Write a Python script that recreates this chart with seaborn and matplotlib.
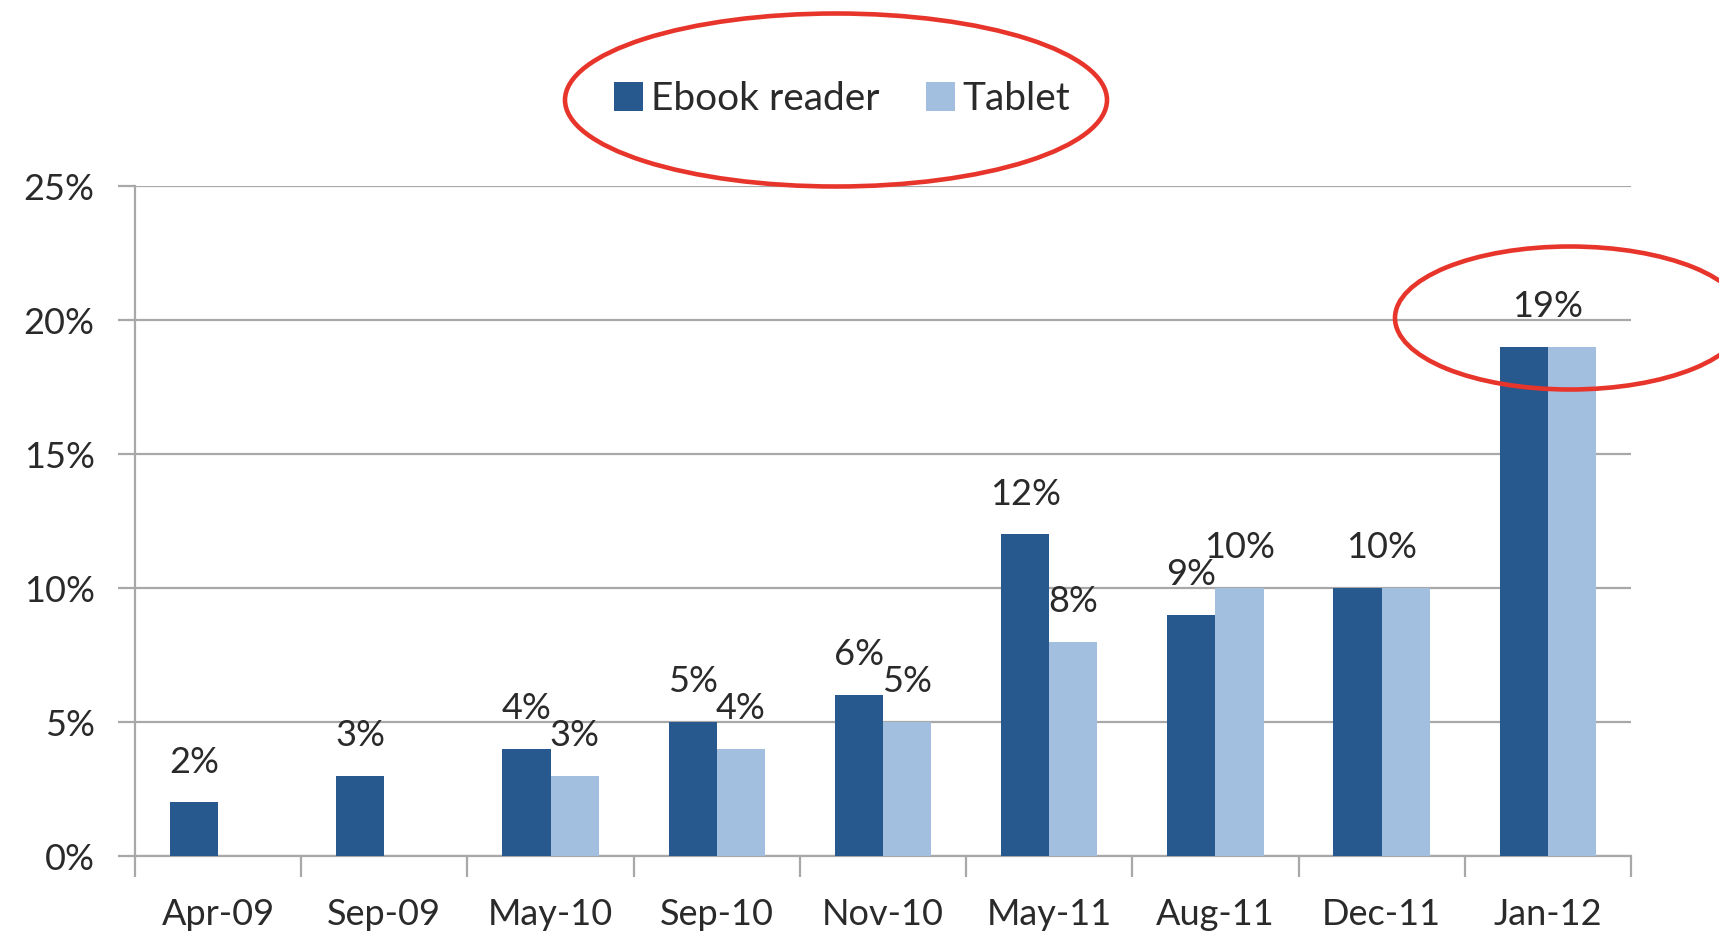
import numpy as np
import pandas as pd
import matplotlib
matplotlib.use("Agg")
import matplotlib.pyplot as plt
import seaborn as sns
from matplotlib.patches import Ellipse, Patch
from matplotlib.ticker import FuncFormatter, FixedLocator

months = ["Apr-09", "Sep-09", "May-10", "Sep-10", "Nov-10", "May-11", "Aug-11", "Dec-11", "Jan-12"]
ebook_reader = [2, 3, 4, 5, 6, 12, 9, 10, 19]
tablet = [np.nan, np.nan, 3, 4, 5, 8, 10, 10, 19]
series = ["Ebook reader", "Tablet"]
colors = ["#28598e", "#a3bfe0"]
yticks = [0, 5, 10, 15, 20, 25]

text_col = "#2a2a2a"
grid_col = "#a8a8a8"

df = pd.DataFrame({
    "month": months * 2,
    "share": ebook_reader + tablet,
    "device": [series[0]] * len(months) + [series[1]] * len(months),
}).dropna()

sns.set_style("white")
plt.rcParams["font.family"] = ["Lato", "DejaVu Sans"]

fig = plt.figure(figsize=(17.19, 9.32), dpi=100)
ax = fig.add_axes([0.0785, 0.0815, 0.8703, 0.7189])

sns.barplot(data=df, x="month", y="share", hue="device", order=months,
            hue_order=series, palette=colors, width=0.58, saturation=1,
            linewidth=0, legend=False, ax=ax, zorder=3)

ax.set_xlim(-0.5, len(months) - 0.5)
ax.set_ylim(0, 25)
ax.yaxis.set_major_locator(FixedLocator(yticks))
ax.yaxis.set_major_formatter(FuncFormatter(lambda v, p: f"{v:.0f}%"))
ax.grid(axis="y", color=grid_col, lw=1.6, zorder=0)
ax.set_axisbelow(True)
for s in ["top", "right"]:
    ax.spines[s].set_visible(False)
for s in ["left", "bottom"]:
    ax.spines[s].set_color(grid_col)
    ax.spines[s].set_linewidth(1.6)

ax.set_xlabel("")
ax.set_ylabel("")
ax.set_xticks(np.arange(-0.5, len(months)), minor=True)
ax.tick_params(axis="x", which="major", bottom=False, length=0, pad=30,
               labelsize=26, labelcolor=text_col)
ax.tick_params(axis="x", which="minor", bottom=True, length=15, width=1.6,
               color=grid_col, direction="out")
ax.tick_params(axis="y", left=True, length=12, width=1.6, color=grid_col, pad=17,
               labelsize=26, labelcolor=text_col)

# data labels: one per bar, or one centred label when both bars are equal
bar_pos = [{}, {}]
for k, cont in enumerate(ax.containers[:2]):
    for p in cont.patches:
        xc = p.get_x() + p.get_width() / 2
        bar_pos[k][int(round(xc))] = (xc, p.get_height())

for i in range(len(months)):
    e, t = ebook_reader[i], tablet[i]
    if not np.isnan(t) and e == t:
        labels = [(i, e, e)]
    else:
        labels = [(bar_pos[0][i][0], e, e)]
        if not np.isnan(t):
            labels.append((bar_pos[1][i][0], t, t))
    for x, h, v in labels:
        ax.annotate(f"{v:g}%", (x, h), xytext=(0, 29), textcoords="offset points",
                    ha="center", va="center", fontsize=26, color=text_col)

handles = [Patch(facecolor=c, edgecolor="none") for c in colors]
fig.legend(handles, series, loc="center", bbox_to_anchor=(842 / 1719, 1 - 99 / 932),
           ncol=2, frameon=False, fontsize=28, handlelength=0.75, handleheight=0.75,
           handletextpad=0.2, columnspacing=1.2, labelcolor=text_col)

# red highlight rings
red = "#e8352b"
fig.add_artist(Ellipse((836 / 1719, 1 - 100 / 932), 542 / 1719, 173 / 932,
                       transform=fig.transFigure, fill=False, ec=red, lw=3.3))
fig.add_artist(Ellipse((1570 / 1719, 1 - 318 / 932), 350 / 1719, 143 / 932,
                       transform=fig.transFigure, fill=False, ec=red, lw=3.3))

fig.savefig("out.png", dpi=100, facecolor="white")
